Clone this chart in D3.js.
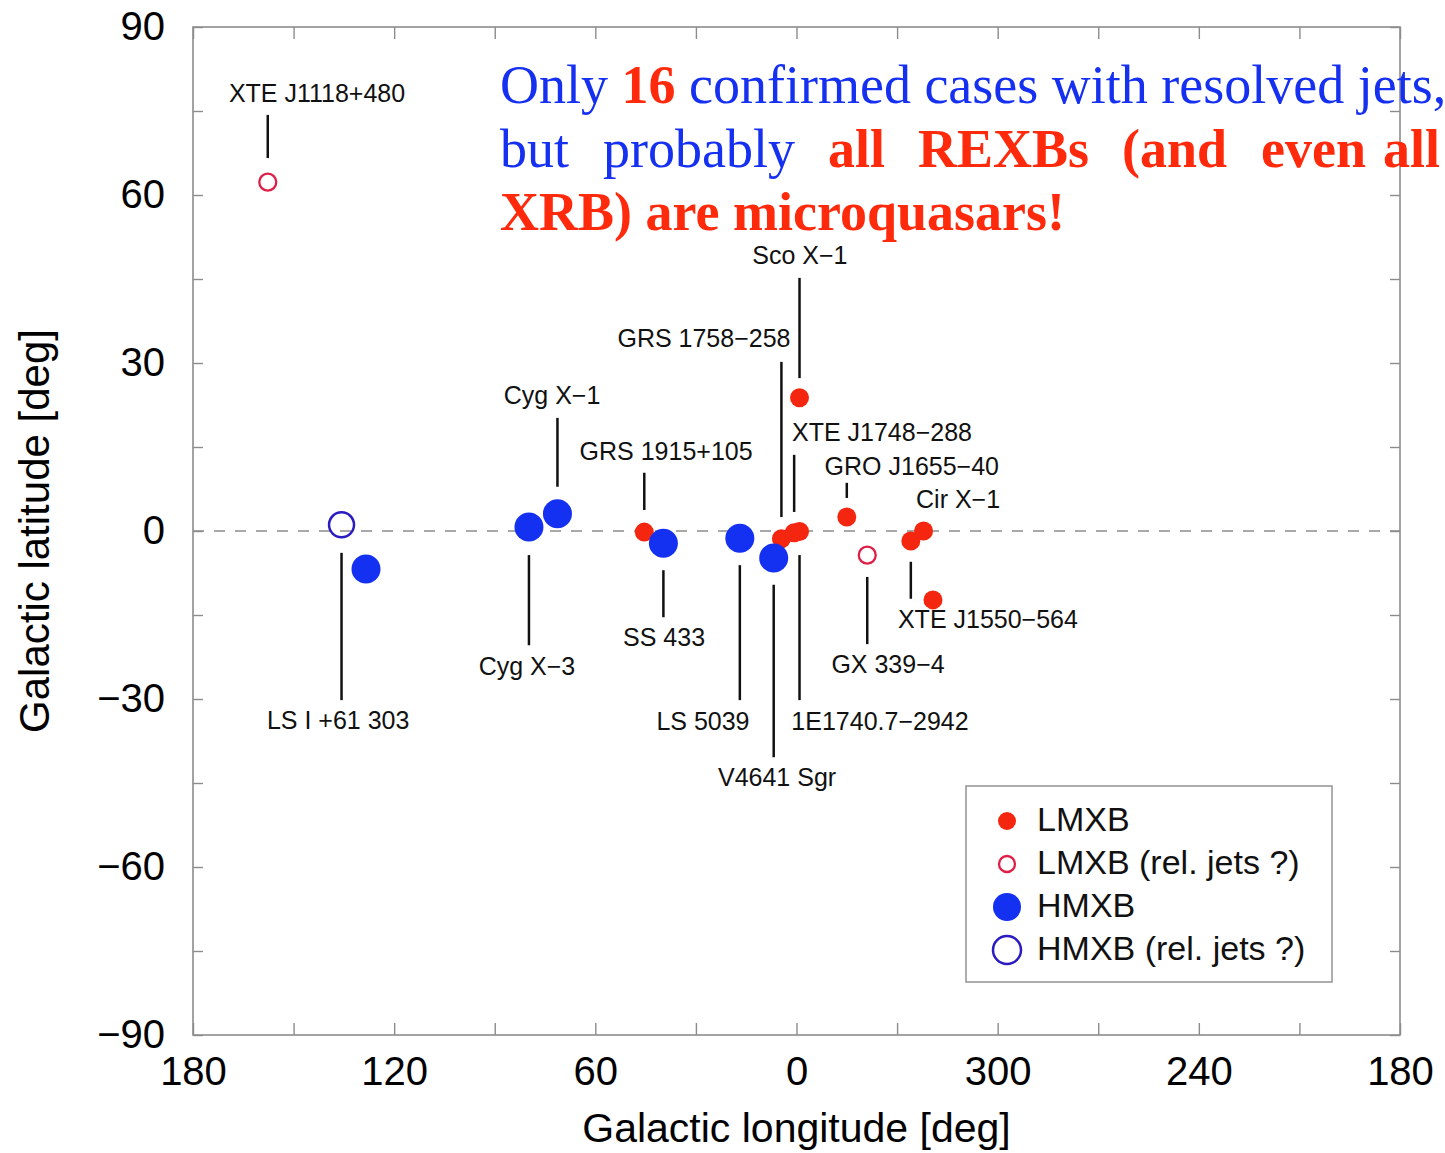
<!DOCTYPE html>
<html>
<head>
<meta charset="utf-8">
<script src="https://cdn.jsdelivr.net/npm/d3@7"></script>
<style>
  body { margin: 0; background: #fff; }
  svg { display: block; }
</style>
</head>
<body>
<div id="chart"></div>
<script>
// sources (galactic coordinates in deg)
const names = ["XTE J1118+480", "LS I +61 303", "", "Cyg X−3", "Cyg X−1", "GRS 1915+105", "SS 433", "LS 5039",
  "V4641 Sgr", "GRS 1758−258", "1E1740.7−2942", "XTE J1748−288", "Sco X−1", "GRO J1655−40", "GX 339−4",
  "Cir X−1", "XTE J1550−564", ""];
const lon = [157.7, 135.7, 128.4, 79.8, 71.3, 45.4, 39.7, 16.9, 6.8, 4.5, 359.1, 0.7, 359.1, 345.0, 338.9, 322.1, 325.9, 319.3];
const lat = [62.3, 1.1, -6.8, 0.7, 3.1, -0.2, -2.2, -1.3, -4.8, -1.4, -0.1, -0.3, 23.8, 2.5, -4.3, 0.0, -1.8, -12.3];
// 0 LMXB, 1 LMXB (rel. jets ?), 2 HMXB, 3 HMXB (rel. jets ?)
const kinds = [1, 3, 2, 2, 2, 0, 2, 2, 2, 0, 0, 0, 0, 0, 1, 0, 0, 0];

// label anchors (deg) and leader line ends (latitude, deg) - null when not labelled
const labelLon = [143.0, 136.7, null, 80.4, 72.9, 38.9, 39.5, 27.9, 5.8, 27.6, 335.1, 334.5, 359.0, 325.6, 332.7, 311.8, 302.9, null];
const labelLat = [76.6, -35.4, null, -25.7, 22.7, 12.7, -20.5, -35.5, -45.5, 32.9, -35.5, 16.1, 47.7, 10.0, -25.4, 4.1, -17.3, null];
const leaderFrom = [74.3, -3.9, null, -4.3, 20.2, 10.4, -7.0, -6.1, -9.6, 30.2, -4.3, 13.6, 45.2, 8.6, -8.2, null, -5.5, null];
const leaderTo = [66.6, -30.2, null, -20.4, 7.9, 3.75, -15.4, -30.2, -40.4, 2.5, -30.2, 3.4, 27.3, 5.9, -20.2, null, -12.1, null];

const legendLabels = ["LMXB", "LMXB (rel. jets ?)", "HMXB", "HMXB (rel. jets ?)"];

const xTicks = [180, 150, 120, 90, 60, 30, 0, -30, -60, -90, -120, -150, -180];
const yTicks = [-90, -75, -60, -45, -30, -15, 0, 15, 30, 45, 60, 75, 90];

// appearance
const settings = {
  width: 1445,
  height: 1153,
  left: 193,
  right: 1400,
  top: 27,
  bottom: 1035,
  frameColor: "#8c8c8c",
  sans: "'Liberation Sans', Arial, Helvetica, sans-serif",
  serif: "'Liberation Serif', 'Times New Roman', serif",
  blueText: "#1530f0",
  redText: "#ff2a0c",
};

// marker style per class
const markerStyle = [
  { r: 9.5, fill: "#f4260f", stroke: "none", sw: 0 },
  { r: 8.5, fill: "none", stroke: "#e01f48", sw: 2.3 },
  { r: 14.5, fill: "#1430f0", stroke: "none", sw: 0 },
  { r: 12.5, fill: "none", stroke: "#2a1cc0", sw: 2.5 },
];

function drawChart() {
  const svg = d3.select("#chart").append("svg")
    .attr("width", settings.width)
    .attr("height", settings.height);

  svg.append("rect").attr("width", settings.width).attr("height", settings.height).attr("fill", "#fff");

  // longitude runs 180 -> 0 -> 360(=0) -> 180, plotted as 180 .. -180
  const x = d3.scaleLinear().domain([180, -180]).range([settings.left, settings.right]);
  const y = d3.scaleLinear().domain([-90, 90]).range([settings.bottom, settings.top]);
  const wrap = (l) => (l > 180 ? l - 360 : l);
  const fmtLon = (v) => (v % 60 === 0 ? String(((v % 360) + 360) % 360 || (v === 0 ? 0 : 180)) : "");
  const fmtLat = (v) => (v % 30 === 0 ? String(v).replace("-", "−") : "");

  // zero latitude dashed line
  svg.append("line")
    .attr("x1", settings.left).attr("x2", settings.right)
    .attr("y1", y(0)).attr("y2", y(0))
    .attr("stroke", "#8c8c8c").attr("stroke-width", 1.4)
    .attr("stroke-dasharray", "11,10");

  // axes with inward ticks
  const styleAxis = (g) => {
    g.select(".domain").remove();
    g.selectAll(".tick line").attr("stroke", settings.frameColor).attr("stroke-width", 1.4);
    g.selectAll(".tick text").attr("fill", "#000").style("font-family", settings.sans).style("font-size", "40px");
  };

  svg.append("g")
    .attr("transform", `translate(0,${settings.bottom})`)
    .call(d3.axisBottom(x).tickValues(xTicks).tickSizeInner(-12).tickSizeOuter(0).tickPadding(22).tickFormat(fmtLon))
    .call(styleAxis);
  svg.append("g")
    .attr("transform", `translate(0,${settings.top})`)
    .call(d3.axisTop(x).tickValues(xTicks).tickSizeInner(-12).tickSizeOuter(0).tickFormat(""))
    .call(styleAxis);
  svg.append("g")
    .attr("transform", `translate(${settings.left},0)`)
    .call(d3.axisLeft(y).tickValues(yTicks).tickSizeInner(-10).tickSizeOuter(0).tickPadding(28).tickFormat(fmtLat))
    .call(styleAxis);
  svg.append("g")
    .attr("transform", `translate(${settings.right},0)`)
    .call(d3.axisRight(y).tickValues(yTicks).tickSizeInner(-10).tickSizeOuter(0).tickFormat(""))
    .call(styleAxis);

  // frame
  svg.append("rect")
    .attr("x", settings.left).attr("y", settings.top)
    .attr("width", settings.right - settings.left).attr("height", settings.bottom - settings.top)
    .attr("fill", "none").attr("stroke", settings.frameColor).attr("stroke-width", 1.6);

  // axis titles
  svg.append("text")
    .attr("x", (settings.left + settings.right) / 2).attr("y", 1142)
    .attr("text-anchor", "middle")
    .style("font-family", settings.sans).style("font-size", "41px")
    .text("Galactic longitude [deg]");
  svg.append("text")
    .attr("transform", `translate(49,${(settings.top + settings.bottom) / 2}) rotate(-90)`)
    .attr("text-anchor", "middle")
    .style("font-family", settings.sans).style("font-size", "42px")
    .text("Galactic latitude [deg]");

  const rows = names.map((n, i) => ({
    name: n, lon: wrap(lon[i]), lat: lat[i], kind: kinds[i],
    labelLon: labelLon[i] === null ? null : wrap(labelLon[i]), labelLat: labelLat[i],
    from: leaderFrom[i], to: leaderTo[i],
  }));

  // leader lines
  svg.append("g").selectAll("line")
    .data(rows.filter((d) => d.from !== null))
    .join("line")
    .attr("x1", (d) => x(d.lon)).attr("x2", (d) => x(d.lon))
    .attr("y1", (d) => y(d.from)).attr("y2", (d) => y(d.to))
    .attr("stroke", "#111").attr("stroke-width", 2.5);

  // source labels
  svg.append("g").selectAll("text")
    .data(rows.filter((d) => d.labelLon !== null))
    .join("text")
    .attr("x", (d) => x(d.labelLon)).attr("y", (d) => y(d.labelLat))
    .attr("text-anchor", "middle")
    .style("font-family", settings.sans).style("font-size", "25px").attr("fill", "#111")
    .text((d) => d.name);

  // markers, red first then blue on top
  const ordered = rows.slice().sort((a, b) => a.kind - b.kind);
  svg.append("g").selectAll("circle")
    .data(ordered)
    .join("circle")
    .attr("cx", (d) => x(d.lon)).attr("cy", (d) => y(d.lat))
    .attr("r", (d) => markerStyle[d.kind].r)
    .attr("fill", (d) => markerStyle[d.kind].fill)
    .attr("stroke", (d) => markerStyle[d.kind].stroke)
    .attr("stroke-width", (d) => markerStyle[d.kind].sw);

  // legend
  const legend = svg.append("g").attr("transform", "translate(966,786)");
  legend.append("rect").attr("width", 366).attr("height", 196)
    .attr("fill", "#fff").attr("stroke", "#999").attr("stroke-width", 1.6);
  const items = legend.selectAll("g.item").data(legendLabels).join("g")
    .attr("class", "item")
    .attr("transform", (d, i) => `translate(0,${35 + i * 43})`);
  items.append("circle")
    .attr("cx", 41)
    .attr("r", (d, i) => (i === 1 ? 8 : i === 0 ? 9 : 14))
    .attr("fill", (d, i) => markerStyle[i].fill)
    .attr("stroke", (d, i) => markerStyle[i].stroke)
    .attr("stroke-width", (d, i) => markerStyle[i].sw);
  items.append("text")
    .attr("x", 71).attr("y", 10)
    .style("font-family", settings.sans).style("font-size", "34px").attr("fill", "#111")
    .text((d) => d);

  // overlay statement
  const note = svg.append("g").style("font-family", settings.serif).style("font-size", "54px");
  const l1 = note.append("text").attr("x", 500).attr("y", 103).attr("xml:space", "preserve");
  l1.append("tspan").attr("fill", settings.blueText).text("Only ");
  l1.append("tspan").attr("fill", settings.redText).attr("font-weight", "bold").text("16");
  l1.append("tspan").attr("fill", settings.blueText).text(" confirmed cases with resolved jets,");

  const words = [
    { t: "but", x: 500, c: settings.blueText, b: false },
    { t: "probably", x: 603, c: settings.blueText, b: false },
    { t: "all", x: 828, c: settings.redText, b: true },
    { t: "REXBs", x: 918, c: settings.redText, b: true },
    { t: "(and", x: 1122, c: settings.redText, b: true },
    { t: "even", x: 1261, c: settings.redText, b: true },
    { t: "all", x: 1383, c: settings.redText, b: true },
  ];
  note.selectAll("text.w").data(words).join("text")
    .attr("class", "w")
    .attr("x", (d) => d.x).attr("y", 167)
    .attr("fill", (d) => d.c)
    .attr("font-weight", (d) => (d.b ? "bold" : "normal"))
    .text((d) => d.t);

  note.append("text").attr("x", 500).attr("y", 230)
    .attr("fill", settings.redText).attr("font-weight", "bold")
    .text("XRB) are microquasars!");
}

drawChart();
</script>
</body>
</html>
